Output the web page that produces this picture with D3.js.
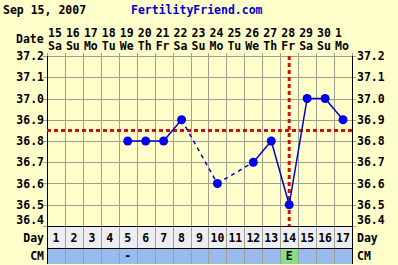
<!DOCTYPE html>
<html>
<head>
<meta charset="utf-8">
<script src="https://cdn.jsdelivr.net/npm/d3@7"></script>
<style>
  body { margin: 0; background: #ffffcc; }
  text { font-family: "DejaVu Sans Mono", monospace; font-weight: bold; font-size: 11.5px; }
</style>
</head>
<body>
<svg id="chart" width="398" height="265"></svg>
<script>
const title = "Sep 15, 2007";
const site = "FertilityFriend.com";
const cycleDays = d3.range(1, 18);
const dates = ["15","16","17","18","19","20","21","22","23","24","25","26","27","28","29","30","1"];
const weekdays = ["Sa","Su","Mo","Tu","We","Th","Fr","Sa","Su","Mo","Tu","We","Th","Fr","Sa","Su","Mo"];
const temps = [null, null, null, null, 36.8, 36.8, 36.8, 36.9, null, 36.6, null, 36.7, 36.8, 36.5, 37.0, 37.0, 36.9];
const cm = ["", "", "", "", "-", "", "", "", "", "", "", "", "", "E", "", "", ""];
const yTicks = [36.4, 36.5, 36.6, 36.7, 36.8, 36.9, 37.0, 37.1, 37.2];
const coverline = 36.85;
const ovulationDay = 14;

const pLeft = 47, pRight = 352, pTop = 56, pBottom = 226;
const dayRowH = 22, cmRowH = 16;

const x = d3.scaleLinear().domain([0.5, 17.5]).range([pLeft, pRight]);
const y = d3.scaleLinear().domain([36.4, 37.2]).range([pBottom, pTop]);
const colW = x(2) - x(1);
const colEdge = d => Math.round(x(d + 0.5)) + 0.5;

const svg = d3.select("#chart");
svg.append("rect").attr("width", 398).attr("height", 265).attr("fill", "#ffffcc");

// header
svg.append("text").attr("x", 3).attr("y", 14).text(title);
svg.append("text").attr("x", 131).attr("y", 14).attr("fill", "#0000cc").text(site);
svg.append("text").attr("x", 16).attr("y", 43).text("Date");

svg.selectAll(".date").data(dates).enter().append("text")
  .attr("x", (d, i) => x(i + 1) - colW / 2 + 1)
  .attr("y", 37).text(d => d);
svg.selectAll(".wd").data(weekdays).enter().append("text")
  .attr("x", (d, i) => x(i + 1) - colW / 2 + 1)
  .attr("y", 50).text(d => d);

// grid
const grid = svg.append("g").attr("stroke", "#a0a090").attr("stroke-width", 1);
grid.selectAll(".h").data(yTicks).enter().append("line")
  .attr("x1", pLeft - 4).attr("x2", pRight + 4)
  .attr("y1", d => Math.round(y(d)) + 0.5).attr("y2", d => Math.round(y(d)) + 0.5);
grid.selectAll(".v").data(d3.range(0, 18)).enter().append("line")
  .attr("x1", colEdge).attr("x2", colEdge)
  .attr("y1", pTop - 3).attr("y2", pBottom);

// axis labels
svg.selectAll(".yl").data(yTicks.slice(1)).enter().append("text")
  .attr("x", 44).attr("y", d => y(d) + 4).attr("text-anchor", "end")
  .text(d => d.toFixed(1));
svg.selectAll(".yr").data(yTicks.slice(1)).enter().append("text")
  .attr("x", 357).attr("y", d => y(d) + 4)
  .text(d => d.toFixed(1));
svg.append("text").attr("x", 44).attr("y", y(36.4) - 2).attr("text-anchor", "end").text("36.4");
svg.append("text").attr("x", 357).attr("y", y(36.4) - 2).text("36.4");

// day and CM rows
svg.append("rect").attr("x", pLeft).attr("y", pBottom)
  .attr("width", pRight - pLeft).attr("height", dayRowH).attr("fill", "#eeeef2");
svg.append("rect").attr("x", pLeft).attr("y", pBottom + dayRowH)
  .attr("width", pRight - pLeft).attr("height", cmRowH).attr("fill", "#99bbee");
cm.forEach((d, i) => {
  if (d === "E") {
    svg.append("rect").attr("x", x(i + 1) - colW / 2 + 1).attr("y", pBottom + dayRowH + 1)
      .attr("width", colW - 1).attr("height", cmRowH - 1).attr("fill", "#88dd88");
  }
});

svg.append("g").attr("stroke", "#a0a090")
  .selectAll("line").data(d3.range(0, 18)).enter().append("line")
  .attr("x1", colEdge).attr("x2", colEdge)
  .attr("y1", pBottom).attr("y2", pBottom + dayRowH + cmRowH);

svg.selectAll(".day").data(cycleDays).enter().append("text")
  .attr("x", d => x(d)).attr("y", pBottom + 16).attr("text-anchor", "middle")
  .text(d => d);
svg.selectAll(".cm").data(cm).enter().append("text")
  .attr("x", (d, i) => x(i + 1)).attr("y", pBottom + dayRowH + 12).attr("text-anchor", "middle")
  .text(d => d);
svg.append("text").attr("x", 44).attr("y", pBottom + 16).attr("text-anchor", "end").text("Day");
svg.append("text").attr("x", 357).attr("y", pBottom + 16).text("Day");
svg.append("text").attr("x", 44).attr("y", pBottom + dayRowH + 12).attr("text-anchor", "end").text("CM");
svg.append("text").attr("x", 357).attr("y", pBottom + dayRowH + 12).text("CM");

// borders
svg.append("line").attr("x1", pLeft + 0.5).attr("x2", pLeft + 0.5).attr("y1", pTop)
  .attr("y2", pBottom + dayRowH + cmRowH).attr("stroke", "#000");
svg.append("line").attr("x1", pRight + 0.5).attr("x2", pRight + 0.5).attr("y1", pTop)
  .attr("y2", pBottom + dayRowH + cmRowH).attr("stroke", "#000");
[pBottom, pBottom + dayRowH].forEach(v => {
  svg.append("line").attr("x1", pLeft).attr("x2", pRight + 1).attr("y1", v + 0.5).attr("y2", v + 0.5)
    .attr("stroke", "#000");
});

// coverline and ovulation
svg.append("line").attr("x1", pLeft).attr("x2", pRight)
  .attr("y1", y(coverline)).attr("y2", y(coverline))
  .attr("stroke", "#cc1111").attr("stroke-width", 3).attr("stroke-dasharray", "4,3");
svg.append("line").attr("x1", x(ovulationDay)).attr("x2", x(ovulationDay))
  .attr("y1", pTop).attr("y2", pBottom)
  .attr("stroke", "#cc1111").attr("stroke-width", 3).attr("stroke-dasharray", "4,3");

// temperature lines
const pts = temps.map((t, i) => ({ day: i + 1, t })).filter(d => d.t !== null);
const segs = d3.pairs(pts);
svg.append("g").selectAll("line").data(segs).enter().append("line")
  .attr("x1", d => x(d[0].day)).attr("y1", d => y(d[0].t))
  .attr("x2", d => x(d[1].day)).attr("y2", d => y(d[1].t))
  .attr("stroke", "#0000cc").attr("stroke-width", 1.5)
  .attr("stroke-dasharray", d => d[1].day - d[0].day > 1 ? "4,4" : null);
svg.append("g").selectAll("circle").data(pts).enter().append("circle")
  .attr("cx", d => x(d.day)).attr("cy", d => y(d.t)).attr("r", 4.5)
  .attr("fill", "#0000ee");
</script>
</body>
</html>
